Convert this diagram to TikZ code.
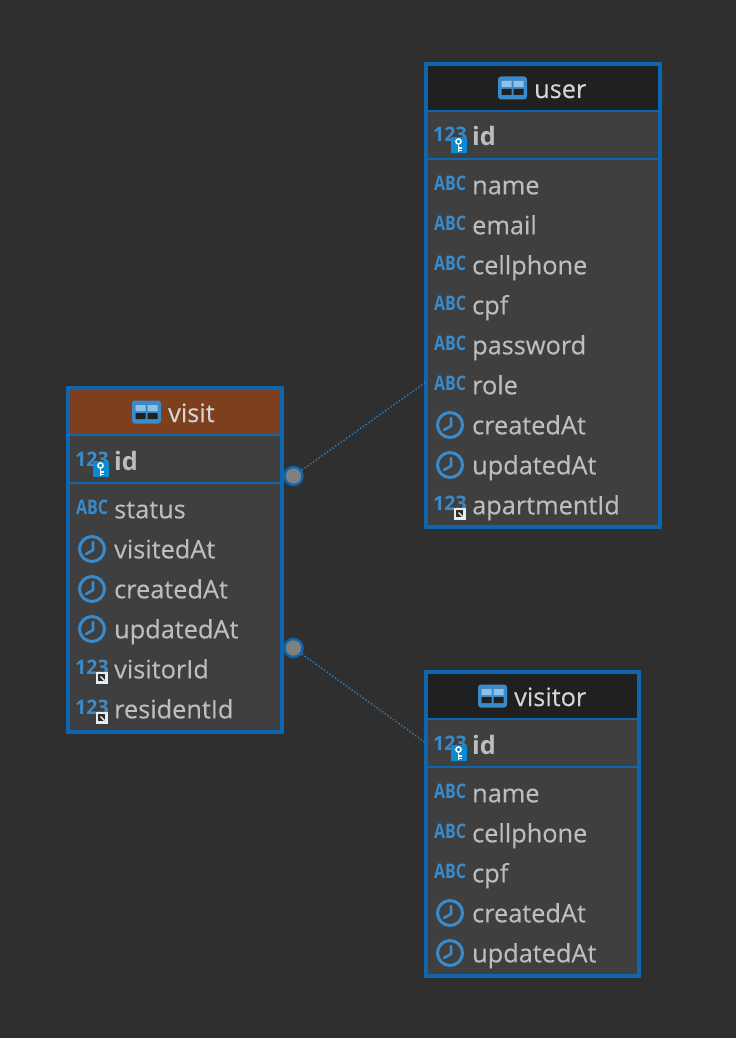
\documentclass[tikz,border=0pt]{standalone}
\usepackage{fontspec}
\setmainfont{Open Sans}
\newfontfamily\iconfont{Open Sans}
\definecolor{bgc}{HTML}{2F2F2F}
\definecolor{rowc}{HTML}{3F3F3F}
\definecolor{headc}{HTML}{202020}
\definecolor{visitc}{HTML}{7E3F1E}
\definecolor{edgec}{HTML}{0F66AE}
\definecolor{iconc}{HTML}{3A8BCB}
\definecolor{txtc}{HTML}{BDBDBD}
\definecolor{titlec}{HTML}{D4D4D4}
\definecolor{keyc}{HTML}{0A8AD0}
\tikzset{
  x=1pt,y=-1pt,
  tablebox/.style={draw=edgec,line width=4pt},
  sepline/.style={edgec,line width=2pt},
  field/.style={anchor=base west,inner sep=0pt,text=txtc,font=\fontsize{25.3}{25}\selectfont\addfontfeature{FakeBold=0.25}},
  keyfield/.style={anchor=base west,inner sep=0pt,text=txtc,font=\fontsize{25.3}{25}\selectfont\bfseries},
  titletext/.style={anchor=base west,inner sep=0pt,text=titlec,font=\fontsize{25.3}{25}\selectfont\addfontfeature{FakeBold=0.25}},
  icontext/.style={anchor=base,inner sep=0pt,text=iconc},
  joint/.style={circle,draw=edgec,line width=2.5pt,fill=gray,minimum size=18pt,inner sep=0pt},
  rel/.style={draw=edgec!85,line width=1.4pt,dotted},
  pics/abcicon/.style={code={
    \node[icontext,font=\fontsize{20}{20}\selectfont\bfseries] (-t) at (0,7.5) {\scalebox{0.8}[1]{ABC}};
  }},
  pics/numicon/.style={code={
    \node[icontext,font=\fontsize{20}{20}\selectfont\iconfont\bfseries] (-t) at (0,7) {\scalebox{0.98}[1]{123}};
  }},
  pics/keybadge/.style={code={
    \fill[keyc] (-8,-8) rectangle (8,8);
    \draw[white,line width=1.5pt] (0,-3) circle (2.6pt);
    \draw[white,line width=1.7pt] (0,0) -- (0,7) (0,3.5) -- (3,3.5) (0,6) -- (3,6);
  }},
  pics/fkbadge/.style={code={
    \fill[white!85!iconc] (-6,-6) rectangle (6,6);
    \fill[rowc!70!black] (-4,-4) rectangle (3,3);
    \draw[white,line width=1.3pt] (-1,-1) -- (3,3);
  }},
  pics/clockicon/.style={code={
    \draw[iconc,line width=3pt] (0,0) circle (12.5pt);
    \draw[iconc,line width=2.6pt,line cap=round,line join=round] (1,-7) -- (1,1) -- (-6,5);
  }},
  pics/tableicon/.style={code={
    \fill[iconc,rounded corners=3pt] (-14.5,-11.5) rectangle (14.5,11.5);
    \fill[iconc!55!white] (-11,-7) rectangle (-1,-1) (1,-7) rectangle (11,-1);
    \fill[headc] (-11,1) rectangle (-1,7) (1,1) rectangle (11,7);
  }},
}
\begin{document}
\begin{tikzpicture}
\useasboundingbox[fill=bgc] (0,0) rectangle (736,1038);

% ---- user
\fill[rowc] (426,64) rectangle (660,527);
\fill[headc] (426,64) rectangle (660,111);
\draw[tablebox] (426,64) rectangle (660,527);
\draw[sepline] (426,111) -- (660,111);
\draw[sepline] (426,159) -- (660,159);
\pic at (512.5,88) {tableicon};
\node[titletext] (userT) at (534,98) {user};
\pic (uk) at (450,135) {numicon};
\pic at (458.5,144.5) {keybadge};
\node[keyfield] (uid) at (472,146) {id};
\foreach \n/\y/\t in {a/185/name,b/225/email,c/265/cellphone,d/305/cpf,e/345/password,f/385/role}{
  \pic (ua\n) at (450,\y-2) {abcicon};
  \node[field] (u\n) at (472,\y+9.3) {\t};
}
\pic at (450,425) {clockicon};
\node[field] (ug) at (472,434.3) {createdAt};
\pic at (450,465) {clockicon};
\node[field] (uh) at (472,474.3) {updatedAt};
\pic (un) at (450,503) {numicon};
\pic at (459.5,513.5) {fkbadge};
\node[field] (ui) at (472,514.3) {apartmentId};

% ---- visit
\fill[rowc] (68,388) rectangle (282,732);
\fill[visitc] (68,388) rectangle (282,435);
\draw[tablebox] (68,388) rectangle (282,732);
\draw[sepline] (68,435) -- (282,435);
\draw[sepline] (68,483) -- (282,483);
\pic at (146.5,412) {tableicon};
\node[titletext] (visitT) at (168,422) {visit};
\pic (vk) at (92,459) {numicon};
\pic at (100.5,468.5) {keybadge};
\node[keyfield] (vid) at (114,470) {id};
\pic (vs) at (92,507) {abcicon};
\node[field] (va) at (114,518.3) {status};
\pic at (92,549) {clockicon};
\node[field] (vb) at (114,558.3) {visitedAt};
\pic at (92,589) {clockicon};
\node[field] (vc) at (114,598.3) {createdAt};
\pic at (92,629) {clockicon};
\node[field] (vd) at (114,638.3) {updatedAt};
\pic (vn1) at (92,667) {numicon};
\pic at (101.5,677.5) {fkbadge};
\node[field] (ve) at (114,678.3) {visitorId};
\pic (vn2) at (92,707) {numicon};
\pic at (101.5,717.5) {fkbadge};
\node[field] (vf) at (114,718.3) {residentId};

% ---- visitor
\fill[rowc] (426,672) rectangle (639,976);
\fill[headc] (426,672) rectangle (639,719);
\draw[tablebox] (426,672) rectangle (639,976);
\draw[sepline] (426,719) -- (639,719);
\draw[sepline] (426,767) -- (639,767);
\pic at (492.5,696) {tableicon};
\node[titletext] (visitorT) at (514,706) {visitor};
\pic (tk) at (450,743) {numicon};
\pic at (458.5,752.5) {keybadge};
\node[keyfield] (tid) at (472,754) {id};
\foreach \n/\y/\t in {a/793/name,b/833/cellphone,c/873/cpf}{
  \pic (ta\n) at (450,\y-2) {abcicon};
  \node[field] (t\n) at (472,\y+9.3) {\t};
}
\pic at (450,913) {clockicon};
\node[field] (td) at (472,922.3) {createdAt};
\pic at (450,953) {clockicon};
\node[field] (te) at (472,962.3) {updatedAt};

% ---- connectors
\coordinate (userEnd) at (426,382);
\coordinate (visitorEnd) at (426,743);
\node[joint] (j1) at (293.5,476) {};
\node[joint] (j2) at (293.5,648) {};
\draw[rel] (j1) -- (userEnd);
\draw[rel] (j2) -- (visitorEnd);
\end{tikzpicture}
\end{document}
